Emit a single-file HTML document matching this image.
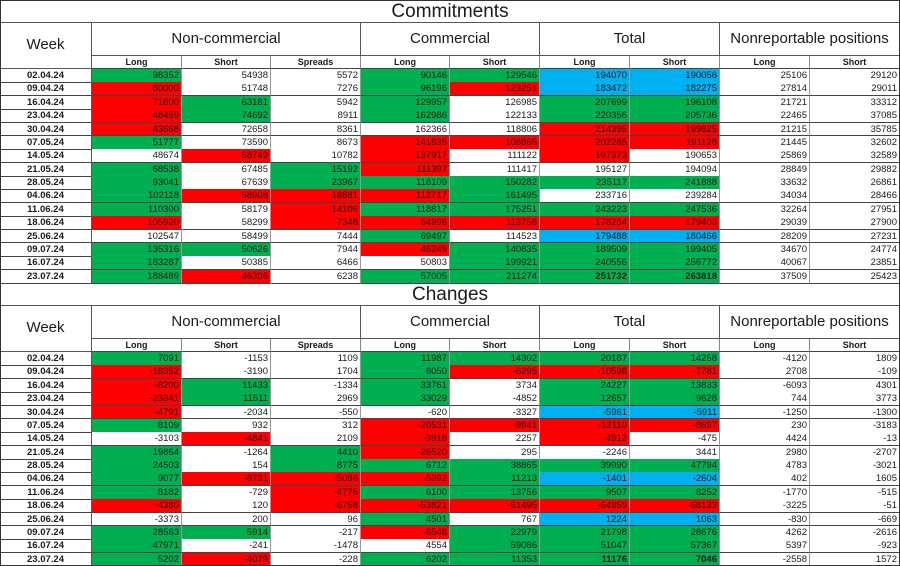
<!DOCTYPE html>
<html><head><meta charset="utf-8"><style>
body{margin:0;background:#fff;font-family:"Liberation Sans",sans-serif;}
#root{position:relative;width:900px;height:566px;overflow:hidden;background:#fff;}
.c{position:absolute;box-sizing:border-box;font-size:9.5px;color:#1a1a1a;white-space:nowrap;overflow:hidden;}
.num{text-align:right;padding-right:2px;border-right:1px solid #999;border-bottom:1px solid #444;}
.wk{text-align:center;font-weight:bold;border-right:1px solid #555;border-bottom:1px solid #444;}
.sub{text-align:center;font-weight:bold;font-size:9px;border-right:1px solid #888;border-bottom:1px solid #444;}
.grp{text-align:center;font-size:15px;border-right:1px solid #555;border-bottom:1px solid #555;}
.ttl{text-align:center;font-size:19px;border-bottom:1px solid #555;}
.g{background:#00b050}.r{background:#ff0000}.b{background:#00b0f0}.w{background:#fff}
</style></head><body>
<div id="root"></div>
<script>
const weeks=["02.04.24","09.04.24","16.04.24","23.04.24","30.04.24","07.05.24","14.05.24","21.05.24","28.05.24","04.06.24","11.06.24","18.06.24","25.06.24","09.07.24","16.07.24","23.07.24"];
const topNcLong=[98352,80000,71800,48459,43668,51777,48674,68538,93041,102118,110300,105920,102547,135316,183287,188489];
const topNcShort=[54938,51748,63181,74692,72658,73590,68749,67485,67639,58908,58179,58299,58499,50626,50385,46306];
const topSpreads=[5572,7276,5942,8911,8361,8673,10782,15192,23967,18881,14106,7348,7444,7944,6466,6238];
const topCLong=[90146,96196,129957,162986,162366,141835,137917,111397,118109,112717,118817,64996,69497,46249,50803,57005];
const topCShort=[129546,123251,126985,122133,118806,108865,111122,111417,150282,161495,175251,113756,114523,140835,199921,211274];
const topTLong=[194070,183472,207699,220356,214395,202285,197373,195127,235117,233716,243223,178264,179488,189509,240556,251732];
const topTShort=[190056,182275,196108,205736,199825,191128,190653,194094,241888,239284,247536,179403,180466,199405,256772,263818];
const topNrLong=[25106,27814,21721,22465,21215,21445,25869,28849,33632,34034,32264,29039,28209,34670,40067,37509];
const topNrShort=[29120,29011,33312,37085,35785,32602,32589,29882,26861,28466,27951,27900,27231,24774,23851,25423];
const chNcLong=[7091,-18352,-8200,-23341,-4791,8109,-3103,19864,24503,9077,8182,-4380,-3373,28563,47971,5202];
const chNcShort=[-1153,-3190,11433,11511,-2034,932,-4841,-1264,154,-8731,-729,120,200,5914,-241,-4079];
const chSpreads=[1109,1704,-1334,2969,-550,312,2109,4410,8775,-5086,-4775,-6758,96,-217,-1478,-228];
const chCLong=[11987,6050,33761,33029,-620,-20531,-3918,-26520,6712,-5392,6100,-53821,4501,-6548,4554,6202];
const chCShort=[14302,-6295,3734,-4852,-3327,-9941,2257,295,38865,11213,13756,-61495,767,22979,59086,11353];
const chTLong=[20187,-10598,24227,12657,-5961,-12110,-4912,-2246,39990,-1401,9507,-64959,1224,21798,51047,11176];
const chTShort=[14258,-7781,13833,9628,-5911,-8697,-475,3441,47794,-2604,8252,-68133,1063,28676,57367,7046];
const chNrLong=[-4120,2708,-6093,744,-1250,230,4424,2980,4783,402,-1770,-3225,-830,4262,5397,-2558];
const chNrShort=[1809,-109,4301,3773,-1300,-3183,-13,-2707,-3021,1605,-515,-51,-669,-2616,-923,1572];
const colNcL="grrrrgwggggrwggg", colNcS="wwggwwrwwrwwwgwr", colSp="wwwwwwwggrrrwwww",
      colCL="ggggwrrrgrgrgrwg", colCS="grwwwrwwgggrwggg";
const topTL="bbggrrrwgwgrbggg", topTS="bbggrrwwgwgrbggg";
const chTL="grggbrrwgbgrbggg", chTS="grggbrwwgbgrbggg";
const xs=[0,92,182,271,361,450,540,630,720,810,900];
const root=document.getElementById('root');
function cell(cls,x,y,w,h,txt,name,lh){
  const d=document.createElement('div');
  d.className='c '+cls;
  d.style.left=x+'px';d.style.top=y+'px';d.style.width=w+'px';d.style.height=h+'px';
  d.style.lineHeight=(lh||h)+'px';
  d.textContent=txt;
  
  
  root.appendChild(d);return d;
}
function block(y0,title,cols,colors){
  cell('ttl',0,y0,900,23,title,'table-title');
  cell('grp',0,y0+23,92,46,'Week','week-header',44);
  const groups=[["Non-commercial",1,4],["Commercial",4,6],["Total",6,8],["Nonreportable positions",8,10]];
  groups.forEach(g=>cell('grp',xs[g[1]],y0+23,xs[g[2]]-xs[g[1]],33,g[0],'group-header',31));
  const subs=["Long","Short","Spreads","Long","Short","Long","Short","Long","Short"];
  subs.forEach((s,i)=>cell('sub',xs[i+1],y0+56,xs[i+2]-xs[i+1],13,s,'column-header',12));
  const rh=13.375;
  weeks.forEach((wk,r)=>{
    const y=y0+69+r*rh;
    cell('wk',0,y,92,rh+0.5,wk,'week-label',13);
    cols.forEach((arr,c)=>{
      const col=colors[c]?colors[c][r]:'w';
      const d=cell('num '+col,xs[c+1],y,xs[c+2]-xs[c+1],rh+0.5,String(arr[r]),'value-cell',13);
      if(r===15&&(c===5||c===6))d.style.fontWeight='bold';
    });
  });
}
block(0,'Commitments',[topNcLong,topNcShort,topSpreads,topCLong,topCShort,topTLong,topTShort,topNrLong,topNrShort],
  [colNcL,colNcS,colSp,colCL,colCS,topTL,topTS,null,null]);
block(283,'Changes',[chNcLong,chNcShort,chSpreads,chCLong,chCShort,chTLong,chTShort,chNrLong,chNrShort],
  [colNcL,colNcS,colSp,colCL,colCS,chTL,chTS,null,null]);
const frame=document.createElement('div');
frame.style.cssText='position:absolute;left:0;top:0;width:900px;height:566px;box-sizing:border-box;border:1px solid #333;pointer-events:none';


root.appendChild(frame);
</script>
</body></html>
